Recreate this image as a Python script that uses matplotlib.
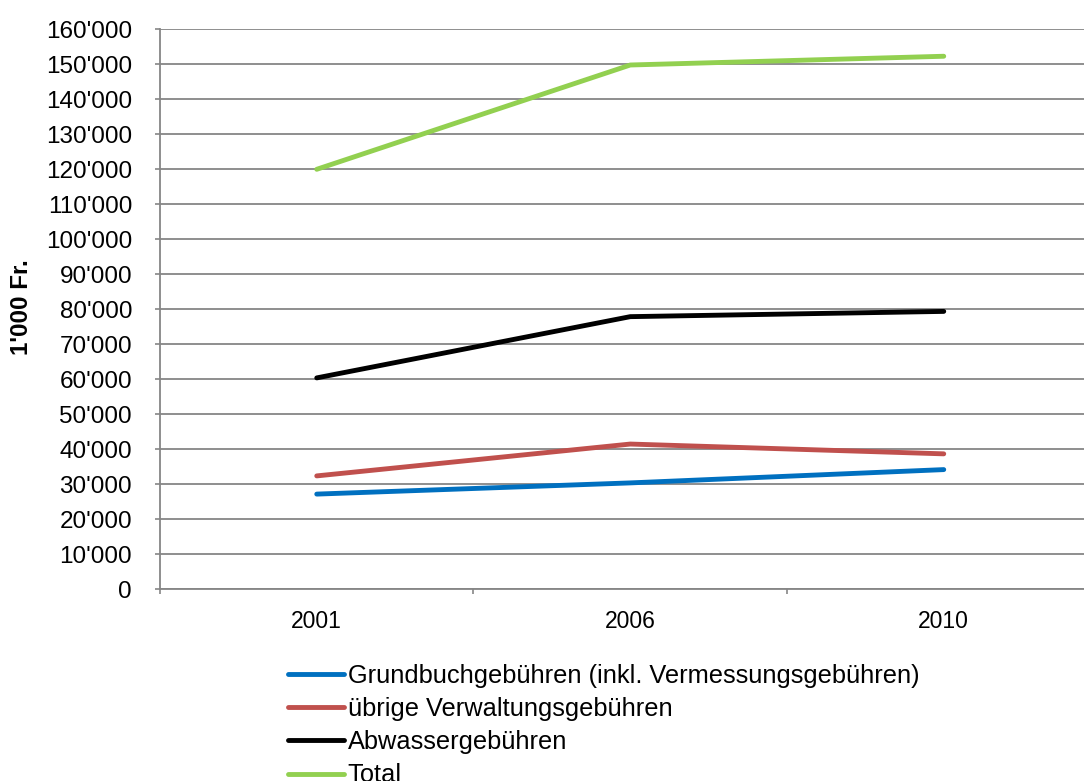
import matplotlib
matplotlib.use("Agg")
import matplotlib.pyplot as plt
from matplotlib.ticker import FuncFormatter, FixedLocator

plt.rcParams['font.family'] = ['Liberation Sans', 'DejaVu Sans']

years = ['2001', '2006', '2010']
grundbuch = [27200, 30400, 34200]
verwaltung = [32400, 41500, 38700]
abwasser = [60400, 77900, 79400]
total = [120000, 149800, 152300]

series_labels = [
    'Grundbuchgebühren (inkl. Vermessungsgebühren)',
    'übrige Verwaltungsgebühren',
    'Abwassergebühren',
    'Total',
]
series_colors = ['#0070C0', '#C0504D', '#000000', '#92D050']
y_label = "1'000 Fr."

W, H = 1084, 781
fig = plt.figure(figsize=(W / 100, H / 100), dpi=100)
left, right = 160, 1100.5
top, bottom = 29.3, 589.3
ax = fig.add_axes([left / W, 1 - bottom / H, (right - left) / W, (bottom - top) / H])

x = list(range(len(years)))
handles = []
for vals, lab, col in zip([grundbuch, verwaltung, abwasser, total], series_labels, series_colors):
    h, = ax.plot(x, vals, color=col, lw=3.5, solid_capstyle='round', solid_joinstyle='round',
                 label=lab, zorder=3)
    handles.append(h)

ax.set_xlim(-0.5, len(years) - 0.5)
ax.set_ylim(0, 160000)
ax.set_yticks(range(0, 160001, 10000))
ax.yaxis.set_major_formatter(FuncFormatter(lambda v, p: f"{int(v):,}".replace(',', "'")))
ax.grid(axis='y', color='#868686', lw=1.3, zorder=0)

ax.set_xticks(x)
ax.set_xticklabels(years)
ax.xaxis.set_minor_locator(FixedLocator([i + 0.5 for i in range(-1, len(years))]))
ax.tick_params(axis='x', which='major', length=0, pad=15, labelsize=16.5)
ax.tick_params(axis='x', which='minor', length=3.6, width=1.2, color='#868686', direction='out')
ax.tick_params(axis='y', length=3.6, width=1.2, color='#868686', labelsize=17.5, pad=16.5)

for s in ['top', 'right']:
    ax.spines[s].set_visible(False)
for s in ['left', 'bottom']:
    ax.spines[s].set_color('#868686')
    ax.spines[s].set_linewidth(1.3)

fig.text(22 / W, 1 - 307 / H, y_label, rotation=90, ha='center', va='center',
         fontsize=17.4, fontweight='bold')

fig.legend(handles=handles, loc='upper left', bbox_to_anchor=(288 / W, 1 - 664 / H),
           frameon=False, fontsize=18.25, handlelength=2.2, handletextpad=0.16,
           labelspacing=0.36, borderpad=0, borderaxespad=0)

fig.savefig('out.png', dpi=100)
